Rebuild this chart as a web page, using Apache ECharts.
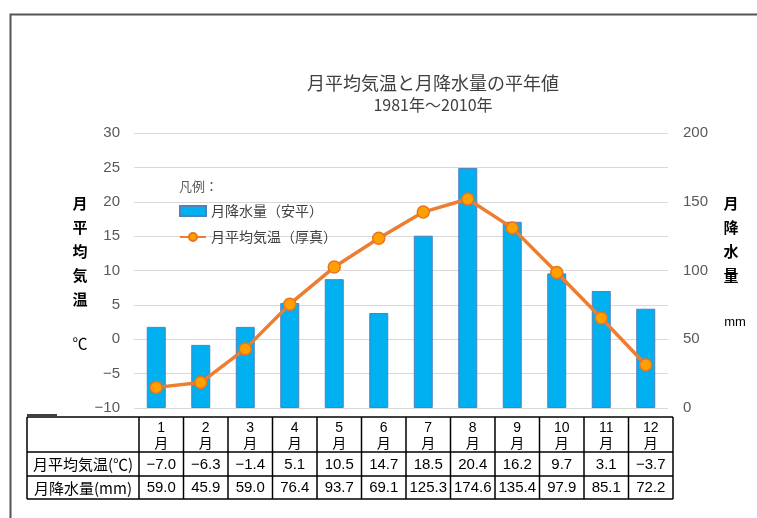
<!DOCTYPE html>
<html><head><meta charset="utf-8">
<script src="https://cdn.jsdelivr.net/npm/echarts@6/dist/echarts.min.js"></script>
<style>html,body{margin:0;padding:0;background:#fff}#c{width:757px;height:518px}</style>
</head><body><div id="c"></div>
<script>
const months = ['1','2','3','4','5','6','7','8','9','10','11','12'];
const temperature = [-7.0,-6.3,-1.4,5.1,10.5,14.7,18.5,20.4,16.2,9.7,3.1,-3.7];
const precipitation = [59.0,45.9,59.0,76.4,93.7,69.1,125.3,174.6,135.4,97.9,85.1,72.2];
const tempName = '月平均気温（厚真）';
const precName = '月降水量（安平）';
const rowLabels = ['月平均気温(℃)', '月降水量(mm)'];

const FONT = '"Noto Sans CJK JP", sans-serif';
const NUMFONT = '"Liberation Sans", Arial, sans-serif';

const chart = echarts.init(document.getElementById('c'), null, {renderer: 'canvas'});
chart.setOption({
  animation: false,
  backgroundColor: '#fff',
  title: {
    text: '月平均気温と月降水量の平年値',
    subtext: '1981年～2010年',
    left: 428, top: 69, textAlign: 'center',
    itemGap: 5,
    textStyle: {fontFamily: FONT, fontSize: 18, fontWeight: 'normal', color: '#404040'},
    subtextStyle: {fontFamily: FONT, fontSize: 16, color: '#404040'}
  },
  grid: {left: 134, right: 89, top: 133, bottom: 110, containLabel: false},
  legend: {
    left: 174, top: 199, orient: 'vertical', itemWidth: 26, itemHeight: 10, itemGap: 12,
    textStyle: {fontFamily: FONT, fontSize: 14, color: '#404040'},
    data: [{name: precName, icon: 'rect'}, {name: tempName}]
  },
  xAxis: {
    type: 'category', data: months,
    axisLine: {lineStyle: {color: '#d9d9d9'}},
    axisTick: {show: false}, axisLabel: {show: false}
  },
  yAxis: [
    {type: 'value', min: -10, max: 30, interval: 5,
     axisLabel: {fontFamily: NUMFONT, fontSize: 15, color: '#595959', margin: 14,
       formatter: v => String(v).replace('-', '−')},
     splitLine: {lineStyle: {color: '#d9d9d9'}},
     axisLine: {show: false}, axisTick: {show: false}},
    {type: 'value', min: 0, max: 200, interval: 50,
     axisLabel: {fontFamily: NUMFONT, fontSize: 15, color: '#595959', margin: 15},
     splitLine: {show: false}, axisLine: {show: false}, axisTick: {show: false}}
  ],
  series: [
    {name: precName, type: 'bar', yAxisIndex: 1, data: precipitation, barWidth: 19,
     itemStyle: {color: '#00B0F0', borderColor: '#4F81BD', borderWidth: 1}},
    {name: tempName, type: 'line', yAxisIndex: 0, data: temperature,
     symbol: 'circle', symbolSize: 12,
     lineStyle: {color: '#ED7D31', width: 3.5},
     itemStyle: {color: '#FFA000', borderColor: '#E8741C', borderWidth: 1.5}}
  ]
});

// Table and extra texts built from the data arrays
const g = [];
const cx0 = chart.convertToPixel({xAxisIndex: 0}, months[0]);
const cx1 = chart.convertToPixel({xAxisIndex: 0}, months[1]);
const bw = cx1 - cx0;
const off = 5;
const tLeft = 27;
const colL = i => chart.convertToPixel({xAxisIndex: 0}, months[i]) - bw / 2 + off;
const tRight = colL(months.length - 1) + bw;
const rowsY = [417, 452, 476, 499];
const lineStyle = {stroke: '#000', lineWidth: 1.5};
rowsY.forEach(y => g.push({type: 'line', shape: {x1: tLeft, y1: y, x2: tRight, y2: y}, style: lineStyle, silent: true}));
g.push({type: 'line', shape: {x1: tLeft, y1: 415, x2: 57, y2: 415}, style: lineStyle});
g.push({type: 'line', shape: {x1: tLeft, y1: rowsY[0], x2: tLeft, y2: rowsY[3]}, style: lineStyle});
for (let i = 0; i <= months.length; i++) {
  const x = i < months.length ? colL(i) : tRight;
  g.push({type: 'line', shape: {x1: x, y1: rowsY[0], x2: x, y2: rowsY[3]}, style: lineStyle});
}
const fmt = v => v.toFixed(1).replace('-', '−');
months.forEach((m, i) => {
  const cx = colL(i) + bw / 2;
  g.push({type: 'text', x: cx, y: 428, style: {text: m, align: 'center', verticalAlign: 'middle', font: '14px ' + NUMFONT, fill: '#000'}});
  g.push({type: 'text', x: cx, y: 443, style: {text: '月', align: 'center', verticalAlign: 'middle', font: '14px ' + FONT, fill: '#000'}});
  g.push({type: 'text', x: cx, y: 464.5, style: {text: fmt(temperature[i]), align: 'center', verticalAlign: 'middle', font: '15px ' + NUMFONT, fill: '#000'}});
  g.push({type: 'text', x: cx, y: 488, style: {text: fmt(precipitation[i]), align: 'center', verticalAlign: 'middle', font: '15px ' + NUMFONT, fill: '#000'}});
});
const firstCenter = (tLeft + colL(0)) / 2;
g.push({type: 'text', x: firstCenter, y: 464.5, style: {text: rowLabels[0], align: 'center', verticalAlign: 'middle', font: '15px ' + FONT, fill: '#000'}});
g.push({type: 'text', x: firstCenter, y: 488, style: {text: rowLabels[1], align: 'center', verticalAlign: 'middle', font: '15px ' + FONT, fill: '#000'}});

// Axis names
g.push({type: 'text', x: 80, y: 191, style: {text: '月\n平\n均\n気\n温', align: 'center', verticalAlign: 'top', lineHeight: 24, font: 'bold 15px ' + FONT, fill: '#000'}});
g.push({type: 'text', x: 80, y: 343, style: {text: '℃', align: 'center', verticalAlign: 'middle', font: '15px ' + FONT, fill: '#000'}});
g.push({type: 'text', x: 731, y: 191, style: {text: '月\n降\n水\n量', align: 'center', verticalAlign: 'top', lineHeight: 24, font: 'bold 15px ' + FONT, fill: '#000'}});
g.push({type: 'text', x: 735, y: 322, style: {text: 'mm', align: 'center', verticalAlign: 'middle', font: '13px ' + NUMFONT, fill: '#000'}});
// Legend heading
g.push({type: 'text', x: 179, y: 186, style: {text: '凡例：', align: 'left', verticalAlign: 'middle', font: '13px ' + FONT, fill: '#595959'}});
// Outer frame
g.push({type: 'polyline', shape: {points: [[10.5, 518], [10.5, 14.5], [757, 14.5]]}, style: {stroke: '#555', lineWidth: 2, fill: null}});

chart.setOption({graphic: g});
</script>
</body></html>
